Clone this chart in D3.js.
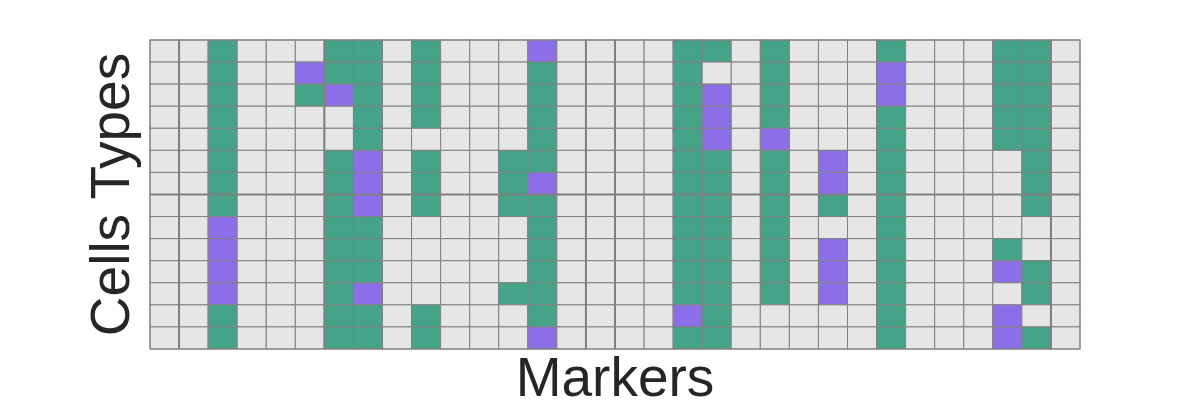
<!DOCTYPE html>
<html>
<head>
<meta charset="utf-8">
<script src="https://cdn.jsdelivr.net/npm/d3@7"></script>
<style>
  html, body { margin: 0; padding: 0; background: #ffffff; }
  svg { display: block; }
</style>
</head>
<body>
<svg id="chart" width="1200" height="400"></svg>
<script>
// ---- data ----
const markers = d3.range(1, 33).map(i => "M" + i);
const cellTypes = d3.range(1, 15).map(i => "C" + i);
const states = [0, 1, 2]; // 0 = absent, 1 = positive, 2 = alternative
const stateColors = ["#e5e6e5", "#45a387", "#8c6fe8"];
const values = [
  [0,0,1,0,0,0,1,1, 0,1,0,0,0,2,0,0, 0,0,1,1,0,1,0,0, 0,1,0,0,0,1,1,0],
  [0,0,1,0,0,2,1,1, 0,1,0,0,0,1,0,0, 0,0,1,0,0,1,0,0, 0,2,0,0,0,1,1,0],
  [0,0,1,0,0,1,2,1, 0,1,0,0,0,1,0,0, 0,0,1,2,0,1,0,0, 0,2,0,0,0,1,1,0],
  [0,0,1,0,0,0,0,1, 0,1,0,0,0,1,0,0, 0,0,1,2,0,1,0,0, 0,1,0,0,0,1,1,0],
  [0,0,1,0,0,0,0,1, 0,0,0,0,0,1,0,0, 0,0,1,2,0,2,0,0, 0,1,0,0,0,1,1,0],
  [0,0,1,0,0,0,1,2, 0,1,0,0,1,1,0,0, 0,0,1,1,0,1,0,2, 0,1,0,0,0,0,1,0],
  [0,0,1,0,0,0,1,2, 0,1,0,0,1,2,0,0, 0,0,1,1,0,1,0,2, 0,1,0,0,0,0,1,0],
  [0,0,1,0,0,0,1,2, 0,1,0,0,1,1,0,0, 0,0,1,1,0,1,0,1, 0,1,0,0,0,0,1,0],
  [0,0,2,0,0,0,1,1, 0,0,0,0,0,1,0,0, 0,0,1,1,0,1,0,0, 0,1,0,0,0,0,0,0],
  [0,0,2,0,0,0,1,1, 0,0,0,0,0,1,0,0, 0,0,1,1,0,1,0,2, 0,1,0,0,0,1,0,0],
  [0,0,2,0,0,0,1,1, 0,0,0,0,0,1,0,0, 0,0,1,1,0,1,0,2, 0,1,0,0,0,2,1,0],
  [0,0,2,0,0,0,1,2, 0,0,0,0,1,1,0,0, 0,0,1,1,0,1,0,2, 0,1,0,0,0,0,1,0],
  [0,0,1,0,0,0,1,1, 0,1,0,0,0,1,0,0, 0,0,2,1,0,0,0,0, 0,1,0,0,0,2,0,0],
  [0,0,1,0,0,0,1,1, 0,1,0,0,0,2,0,0, 0,0,1,1,0,0,0,0, 0,1,0,0,0,2,1,0]
];
const markerBreaks = ["M2", "M7", "M16", "M17", "M32"];
const cellTypeBreaks = ["C8"];
const xTitle = "Markers";
const yTitle = "Cells Types";

// ---- layout ----
const svg = d3.select("#chart");
const gLeft = 150, gRight = 1080, gTop = 40, gBottom = 349;

const x = d3.scaleBand().domain(markers).range([gLeft, gRight]).padding(0);
const y = d3.scaleBand().domain(cellTypes).range([gTop, gBottom]).padding(0);
const color = d3.scaleOrdinal().domain(states).range(stateColors);

const cells = [];
values.forEach((row, r) => row.forEach((v, c) => cells.push({ct: cellTypes[r], mk: markers[c], v})));

svg.append("g").selectAll("rect").data(cells).join("rect")
  .attr("x", d => x(d.mk))
  .attr("y", d => y(d.ct))
  .attr("width", x.bandwidth())
  .attr("height", y.bandwidth())
  .attr("fill", d => color(d.v))
  .attr("stroke", "#808080")
  .attr("stroke-width", 1);

// heavier separators
const sep = svg.append("g").attr("stroke", "#808080").attr("stroke-width", 2);
sep.selectAll("line.v").data(markerBreaks).join("line").attr("class", "v")
  .attr("x1", d => x(d)).attr("x2", d => x(d))
  .attr("y1", gTop).attr("y2", gBottom);
sep.selectAll("line.h").data(cellTypeBreaks).join("line").attr("class", "h")
  .attr("x1", gLeft).attr("x2", gRight)
  .attr("y1", d => y(d)).attr("y2", d => y(d));

// outer border
svg.append("rect")
  .attr("x", gLeft).attr("y", gTop)
  .attr("width", gRight - gLeft).attr("height", gBottom - gTop)
  .attr("fill", "none").attr("stroke", "#808080").attr("stroke-width", 1);

// titles
svg.append("text")
  .attr("x", (gLeft + gRight) / 2).attr("y", 396)
  .attr("text-anchor", "middle")
  .attr("font-family", "Liberation Sans, Arial, sans-serif")
  .attr("font-size", 55).attr("fill", "#262626")
  .text(xTitle);

svg.append("text")
  .attr("transform", `translate(129,${(gTop + gBottom) / 2}) rotate(-90)`)
  .attr("text-anchor", "middle")
  .attr("font-family", "Liberation Sans, Arial, sans-serif")
  .attr("font-size", 55).attr("fill", "#262626")
  .text(yTitle);
</script>
</body>
</html>
